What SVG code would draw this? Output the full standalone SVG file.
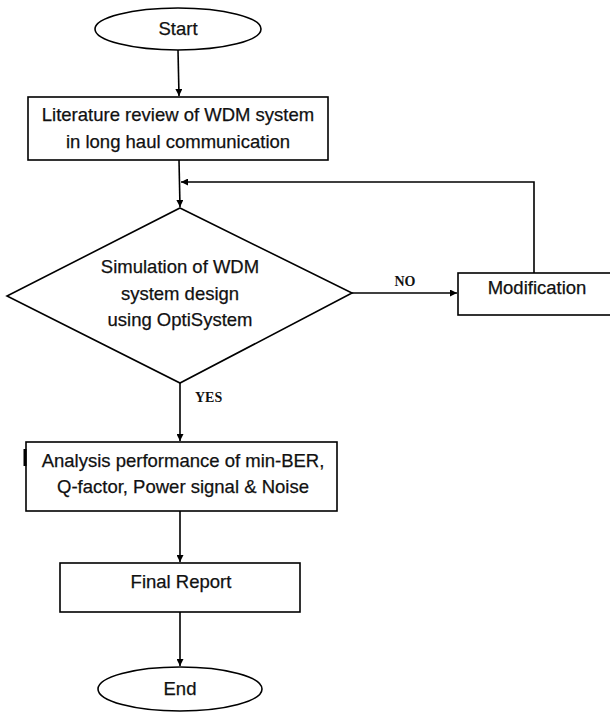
<svg xmlns="http://www.w3.org/2000/svg" width="610" height="713" viewBox="0 0 610 713">
<style>
.shape{fill:#fff;stroke:#000;stroke-width:1.6}
.t{font-family:"Liberation Sans",Arial,sans-serif;font-size:18.5px;fill:#111;stroke:#111;stroke-width:0.25;text-anchor:middle}
.lbl{font-family:"Liberation Serif","Times New Roman",serif;font-size:14px;font-weight:bold;fill:#111}
.line{fill:none;stroke:#000;stroke-width:1.6}
</style>
<defs>
<marker id="arr" viewBox="0 0 10 10" refX="10" refY="5" markerWidth="7" markerHeight="7" markerUnits="userSpaceOnUse" orient="auto">
<path d="M0,0 L10,5 L0,10 z" fill="#000"/>
</marker>
</defs>
<rect width="610" height="713" fill="#fff"/>
<g id="connectors">
<path class="line" d="M178,50 L179,96" marker-end="url(#arr)"/>
<path class="line" d="M179,160 L180,207" marker-end="url(#arr)"/>
<path class="line" d="M534,273 L534,182 L181,182" marker-end="url(#arr)"/>
<path class="line" d="M352,293 L457,293" marker-end="url(#arr)"/>
<path class="line" d="M180,383 L180,441" marker-end="url(#arr)"/>
<path class="line" d="M180,511 L180,562" marker-end="url(#arr)"/>
<path class="line" d="M180,612 L180,666" marker-end="url(#arr)"/>
<text class="lbl" x="405" y="286" text-anchor="middle">NO</text>
<text class="lbl" x="195" y="402">YES</text>
</g>
<g id="start">
<ellipse class="shape" cx="178" cy="29" rx="83" ry="21"/>
<text class="t" x="178" y="35">Start</text>
</g>
<g id="literature">
<rect class="shape" x="28" y="97" width="300" height="63"/>
<text class="t" x="178" y="121">Literature review of WDM system</text>
<text class="t" x="178" y="148">in long haul communication</text>
</g>
<g id="simulation">
<polygon class="shape" points="180,208 352,293 180,383 7,296"/>
<text class="t" x="180" y="273">Simulation of WDM</text>
<text class="t" x="180" y="300">system design</text>
<text class="t" x="180" y="326">using OptiSystem</text>
</g>
<g id="modification">
<rect class="shape" x="458" y="273" width="162" height="42"/>
<text class="t" x="537" y="294">Modification</text>
</g>
<g id="analysis">
<rect class="shape" x="26" y="442" width="311" height="69"/>
<line x1="25" y1="449" x2="25" y2="466" stroke="#000" stroke-width="3"/>
<text class="t" x="183" y="467">Analysis performance of min-BER,</text>
<text class="t" x="183" y="493">Q-factor, Power signal &amp; Noise</text>
</g>
<g id="final">
<rect class="shape" x="60" y="563" width="240" height="49"/>
<text class="t" x="181" y="588">Final Report</text>
</g>
<g id="end">
<ellipse class="shape" cx="180" cy="689" rx="82" ry="22"/>
<text class="t" x="180" y="695">End</text>
</g>
</svg>
